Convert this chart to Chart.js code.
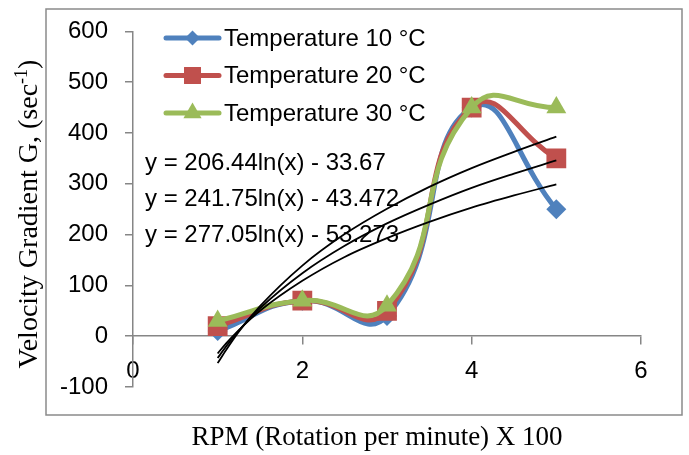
<!DOCTYPE html>
<html lang="en">
<head>
<meta charset="UTF-8">
<title>Velocity Gradient vs RPM</title>
<script src="https://cdn.jsdelivr.net/npm/chart.js"></script>
<style>
    body { margin: 0; background: #fff; }
    #wrap { width: 689px; height: 455px; position: relative; }
</style>
</head>
<body>
<div id="wrap"><canvas id="rpmChart"></canvas></div>
<script>
// measured series (RPM x 100 vs velocity gradient)
const rpm = [1, 2, 3, 4, 5];
const temp10 = [10, 70, 40, 450, 250];
const temp20 = [20, 70, 50, 450, 350];
const temp30 = [30, 70, 60, 450, 450];
const seriesLabels = ['Temperature 10 °C', 'Temperature 20 °C', 'Temperature 30 °C'];

// log trendlines
const trendX = [1, 1.1, 1.25, 1.5, 2, 2.5, 3, 3.5, 4, 4.5, 5];
const trend10 = [-34, -14, 12, 50, 109, 156, 193, 225, 253, 277, 299];
const trend20 = [-43, -20, 11, 55, 124, 178, 222, 259, 292, 320, 346];
const trend30 = [-53, -27, 9, 59, 139, 201, 251, 294, 331, 363, 393];
const trendLabels = ['y = 206.44ln(x) - 33.67', 'y = 241.75ln(x) - 43.472', 'y = 277.05ln(x) - 53.273'];

const xTicks = [0, 2, 4, 6];
const yTicks = [-100, 0, 100, 200, 300, 400, 500, 600];

const colors = ['#4F81BD', '#C0504D', '#9BBB59'];
const markers = [
    { style: 'rectRot', radius: 10, legendRadius: 7.5 },
    { style: 'rect', radius: 14, legendRadius: 12 },
    { style: 'triangle', radius: 11.5, legendRadius: 10.5 }
];
const axisGray = '#868686';
const sansFont = '"Liberation Sans", Arial, sans-serif';
const serifFont = '"Liberation Serif", "Times New Roman", serif';

function series(values, i) {
    return {
        label: seriesLabels[i],
        data: rpm.map((x, k) => ({ x: x, y: values[k] })),
        borderColor: colors[i],
        backgroundColor: colors[i],
        borderWidth: 5,
        pointStyle: markers[i].style,
        pointRadius: markers[i].radius,
        pointBorderWidth: 0,
        pointBackgroundColor: colors[i],
        tension: 0.5,
        order: 3 - i
    };
}

function trend(values) {
    return {
        data: trendX.map((x, k) => ({ x: x, y: values[k] })),
        borderColor: '#000',
        borderWidth: 1.8,
        pointRadius: 0,
        cubicInterpolationMode: 'monotone',
        order: 0
    };
}

function drawMarker(c, style, r, x, y) {
    if (Chart.helpers && Chart.helpers.drawPoint) {
        Chart.helpers.drawPoint(c, { pointStyle: style, radius: r, rotation: 0, borderWidth: 0 }, x, y);
        return;
    }
    c.beginPath();
    c.arc(x, y, r, 0, Math.PI * 2);
    c.fill();
}

const decor = {
    id: 'decor',
    beforeDraw(chart) {
        const c = chart.ctx;
        c.save();
        c.fillStyle = '#fff';
        c.fillRect(0, 0, chart.width, chart.height);
        c.strokeStyle = '#8a8a8a';
        c.lineWidth = 1.5;
        c.strokeRect(46, 9, 636, 406);
        c.restore();
    },
    beforeDatasetsDraw(chart) {
        // trendline equations sit under the lines
        const c = chart.ctx;
        c.save();
        c.font = '24px ' + sansFont;
        c.fillStyle = '#000';
        c.textBaseline = 'middle';
        trendLabels.forEach((t, i) => c.fillText(t, 145, 163 + i * 36));
        c.restore();
    },
    afterDraw(chart) {
        const c = chart.ctx;
        c.save();
        // legend inside the plot
        seriesLabels.forEach((lab, i) => {
            const y = 38 + i * 37.5;
            c.strokeStyle = colors[i];
            c.fillStyle = colors[i];
            c.lineWidth = 5;
            c.lineCap = 'round';
            c.beginPath();
            c.moveTo(166, y);
            c.lineTo(219, y);
            c.stroke();
            drawMarker(c, markers[i].style, markers[i].legendRadius, 192.5, y);
            c.fillStyle = '#000';
            c.font = '24px ' + sansFont;
            c.textBaseline = 'middle';
            c.fillText(lab, 224, y + 1);
        });

        // x axis title
        c.font = '27px ' + serifFont;
        c.textAlign = 'center';
        c.textBaseline = 'middle';
        c.fillText('RPM (Rotation per minute) X 100', 377, 438);

        // y axis title with superscript
        c.translate(28, 214);
        c.rotate(-Math.PI / 2);
        c.textAlign = 'left';
        c.textBaseline = 'alphabetic';
        const main = 'Velocity Gradient G, (sec', sup = '-1', tail = ')';
        c.font = '28px ' + serifFont;
        const wMain = c.measureText(main).width, wTail = c.measureText(tail).width;
        c.font = '18px ' + serifFont;
        const wSup = c.measureText(sup).width;
        const x0 = -(wMain + wSup + wTail) / 2;
        const base = 9;
        c.font = '28px ' + serifFont;
        c.fillText(main, x0, base);
        c.font = '18px ' + serifFont;
        c.fillText(sup, x0 + wMain, base - 10);
        c.font = '28px ' + serifFont;
        c.fillText(tail, x0 + wMain + wSup, base);
        c.restore();
    }
};

new Chart(document.getElementById('rpmChart'), {
    type: 'line',
    data: {
        datasets: [
            series(temp10, 0),
            series(temp20, 1),
            series(temp30, 2),
            trend(trend10),
            trend(trend20),
            trend(trend30)
        ]
    },
    options: {
        responsive: true,
        maintainAspectRatio: false,
        animation: false,
        layout: { padding: { left: 0, right: 48, top: 28, bottom: 68 } },
        plugins: {
            legend: { display: false },
            tooltip: { enabled: false }
        },
        scales: {
            x: {
                type: 'linear',
                position: { y: 0 },
                min: xTicks[0],
                max: xTicks[xTicks.length - 1],
                afterBuildTicks: s => { s.ticks = xTicks.map(v => ({ value: v })); },
                grid: { drawOnChartArea: false, drawTicks: true, tickLength: 8, color: axisGray, lineWidth: 1.5 },
                border: { display: true, color: axisGray, width: 1.5 },
                ticks: { color: '#000', font: { family: sansFont, size: 24 }, padding: 13, maxRotation: 0 }
            },
            y: {
                type: 'linear',
                position: 'left',
                min: yTicks[0],
                max: yTicks[yTicks.length - 1],
                afterBuildTicks: s => { s.ticks = yTicks.map(v => ({ value: v })); },
                afterFit: s => { s.width = 133; },
                grid: { drawOnChartArea: false, drawTicks: true, tickLength: 8, color: axisGray, lineWidth: 1.5 },
                border: { display: true, color: axisGray, width: 1.5 },
                ticks: { color: '#000', font: { family: sansFont, size: 24 }, padding: 17 }
            }
        }
    },
    plugins: [decor]
});
</script>
</body>
</html>
